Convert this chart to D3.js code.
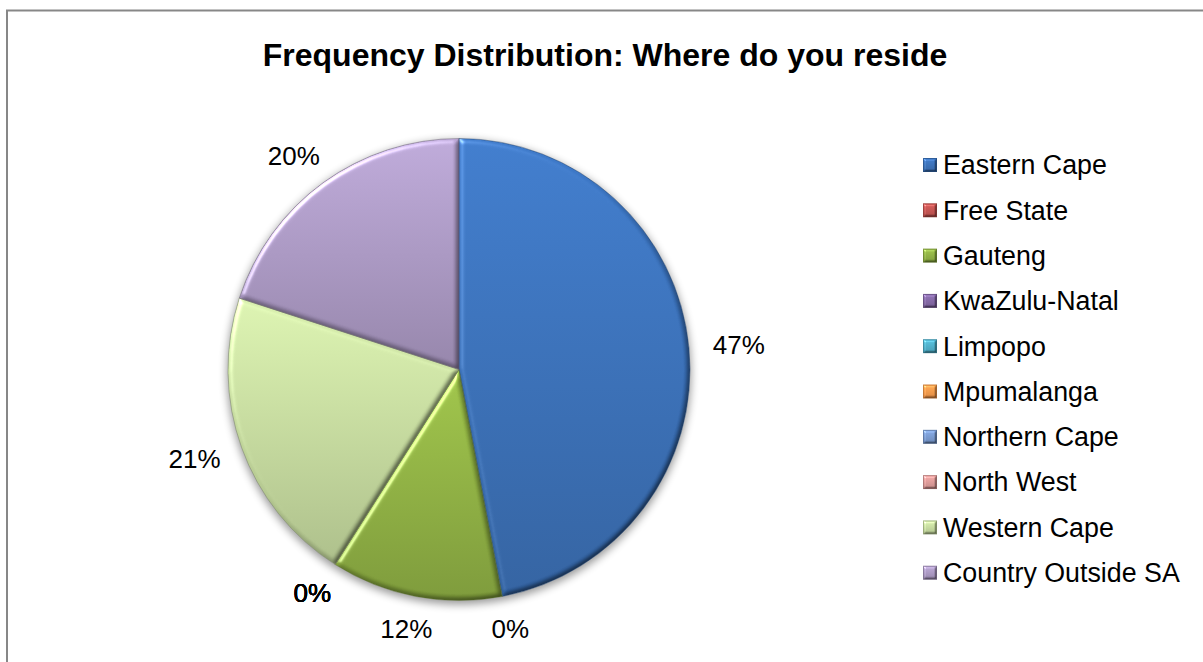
<!DOCTYPE html>
<html>
<head>
<meta charset="utf-8">
<script src="https://cdn.jsdelivr.net/npm/d3@7"></script>
<style>
  html, body { margin: 0; padding: 0; background: #ffffff; }
  svg { display: block; font-family: "Liberation Sans", Arial, sans-serif; }
</style>
</head>
<body>
<script>
// Where respondents reside (share of responses, %)
const categories = ["Eastern Cape", "Free State", "Gauteng", "KwaZulu-Natal", "Limpopo",
                    "Mpumalanga", "Northern Cape", "North West", "Western Cape", "Country Outside SA"];
const values = [47, 0, 12, 0, 0, 0, 0, 0, 21, 20];
const sliceColors = ["#376db5", "#c0504d", "#8cad40", "#8064a2", "#4bacc6",
                     "#f79646", "#7596cc", "#d99694", "#c2d79b", "#a795bf"];
const titleText = "Frequency Distribution: Where do you reside";

const W = 1203, H = 662;
const cx = 459, cy = 369.5, R = 231;

const data = categories.map((c, i) => ({ name: c, value: values[i], color: sliceColors[i], i }));

const svg = d3.select("body").append("svg").attr("width", W).attr("height", H);
const defs = svg.append("defs");

// soft bevel: blurred alpha lit from the upper left; diffuse term scales the colour, specular adds a sheen
function bevelFilter(id, blur, scale, spec) {
  const f = defs.append("filter").attr("id", id)
    .attr("x", "-10%").attr("y", "-10%").attr("width", "120%").attr("height", "120%")
    .attr("color-interpolation-filters", "sRGB");
  f.append("feGaussianBlur").attr("in", "SourceAlpha").attr("stdDeviation", blur).attr("result", "b");
  const dl = f.append("feDiffuseLighting").attr("in", "b").attr("surfaceScale", scale)
    .attr("diffuseConstant", 1.74).attr("lighting-color", "#ffffff").attr("result", "diff");
  dl.append("feDistantLight").attr("azimuth", 225).attr("elevation", 35);
  const sl = f.append("feSpecularLighting").attr("in", "b").attr("surfaceScale", scale)
    .attr("specularConstant", 0.8).attr("specularExponent", 24).attr("lighting-color", "#ffffff").attr("result", "spec");
  sl.append("feDistantLight").attr("azimuth", 225).attr("elevation", 35);
  f.append("feComposite").attr("in", "SourceGraphic").attr("in2", "diff")
    .attr("operator", "arithmetic").attr("k1", 0.45).attr("k2", 0.55).attr("k3", 0).attr("k4", 0).attr("result", "lit");
  f.append("feComposite").attr("in", "spec").attr("in2", "SourceAlpha").attr("operator", "in").attr("result", "spec2");
  f.append("feComposite").attr("in", "lit").attr("in2", "spec2")
    .attr("operator", "arithmetic").attr("k1", 0).attr("k2", 1).attr("k3", spec).attr("k4", 0).attr("result", "out");
  f.append("feComposite").attr("in", "out").attr("in2", "SourceAlpha").attr("operator", "in");
}
bevelFilter("bevel", 2.6, 2.6, 0.55);
bevelFilter("bevelSmall", 1.0, 2.2, 0.6);

// shadow under the pie
const sh = defs.append("filter").attr("id", "pieShadow")
  .attr("x", "-20%").attr("y", "-20%").attr("width", "140%").attr("height", "140%");
sh.append("feGaussianBlur").attr("stdDeviation", 4);

// vertical shading over each slice's own box
data.forEach(d => {
  const base = d3.color(d.color);
  const g = defs.append("linearGradient").attr("id", "grad" + d.i)
    .attr("x1", 0).attr("y1", 0).attr("x2", 0).attr("y2", 1);
  g.append("stop").attr("offset", 0).attr("stop-color", base.brighter(0.3));
  g.append("stop").attr("offset", 1).attr("stop-color", base.darker(0.4));
});

// chart frame
svg.append("rect").attr("x", 7).attr("y", 10.5).attr("width", W + 20).attr("height", H + 20)
  .attr("fill", "#ffffff").attr("stroke", "#878787").attr("stroke-width", 2);

// title
svg.append("text").attr("x", 605).attr("y", 66).attr("text-anchor", "middle")
  .attr("font-weight", "bold").attr("font-size", 32).attr("fill", "#000")
  .text(titleText);

// pie
const pie = d3.pie().sort(null).value(d => d.value).startAngle(0).endAngle(2 * Math.PI);
const arcs = pie(data);
const arc = d3.arc().innerRadius(0).outerRadius(R);
const drawn = arcs.filter(a => a.endAngle - a.startAngle > 1e-6);

const gPie = svg.append("g").attr("transform", `translate(${cx},${cy})`);
gPie.append("circle").attr("cx", 0).attr("cy", 3).attr("r", R + 1)
  .attr("fill", "#000").attr("opacity", 0.4).attr("filter", "url(#pieShadow)");

gPie.selectAll("path.slice")
  .data(drawn)
  .join("path").attr("class", "slice")
  .attr("d", arc)
  .attr("fill", d => `url(#grad${d.data.i})`)
  .attr("filter", "url(#bevel)");

gPie.selectAll("path.edge")
  .data(drawn)
  .join("path").attr("class", "edge")
  .attr("d", arc)
  .attr("fill", "none")
  .attr("stroke", d => d3.color(d.data.color).darker(1.3))
  .attr("stroke-opacity", 0.5)
  .attr("stroke-width", 1);

// percentage labels just outside each slice
const fsLabel = 26;
const capH = fsLabel * 0.716;
const pad = 24;
const labels = svg.append("g");
arcs.forEach(a => {
  const t = labels.append("text").attr("font-size", fsLabel).attr("fill", "#000")
    .attr("text-anchor", "middle").text(d3.format(".0f")(a.data.value) + "%");
  const w = t.node().getComputedTextLength();
  const th = (a.startAngle + a.endAngle) / 2;
  const s = Math.sin(th), c = Math.cos(th);
  const x = cx + (R + pad) * s + s * w / 2;
  const yc = cy - (R + pad) * c - c * capH / 2;
  t.attr("x", x).attr("y", yc + capH / 2);
});

// legend
const lgX = 923, lgY0 = 165, lgStep = 45.3, box = 14;
const lg = svg.append("g");
data.forEach((d, k) => {
  const yc = lgY0 + k * lgStep;
  lg.append("rect").attr("x", lgX).attr("y", yc - box / 2).attr("width", box).attr("height", box)
    .attr("fill", `url(#grad${d.i})`).attr("filter", "url(#bevelSmall)");
  lg.append("rect").attr("x", lgX + 0.5).attr("y", yc - box / 2 + 0.5).attr("width", box - 1).attr("height", box - 1)
    .attr("fill", "none").attr("stroke", d3.color(d.color).darker(1)).attr("stroke-opacity", 0.6).attr("stroke-width", 1);
  lg.append("text").attr("x", lgX + box + 6).attr("y", yc + 9.3)
    .attr("font-size", 26.8).attr("fill", "#000").text(d.name);
});
</script>
</body>
</html>
